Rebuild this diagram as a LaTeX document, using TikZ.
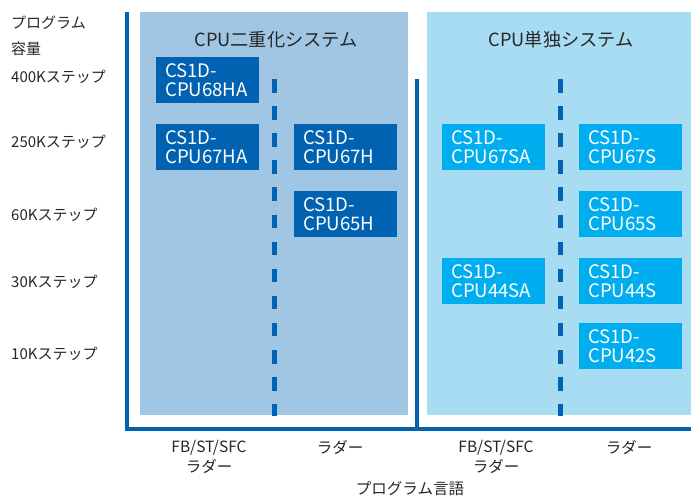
\documentclass[tikz,border=0pt]{standalone}
\usepackage{fontspec}
\setmainfont{Noto Sans CJK JP}
\definecolor{axisblue}{HTML}{0062B0}
\definecolor{panelA}{HTML}{A0C6E3}
\definecolor{panelB}{HTML}{A8DCF2}
\definecolor{boxA}{HTML}{0062B0}
\definecolor{boxB}{HTML}{00AEEF}
\definecolor{txt}{HTML}{262626}
\begin{document}
\begin{tikzpicture}[x=1pt,y=-1pt,
  cpubox/.style={anchor=north west, minimum width=103pt, minimum height=46pt,
    text width=85pt, inner xsep=9pt, inner ysep=0pt, align=left, text=white,
    font=\fontsize{18.6}{19.7}\selectfont},
  darkbox/.style={cpubox, fill=boxA},
  lightbox/.style={cpubox, fill=boxB},
  rowlabel/.style={anchor=west, text=txt, inner sep=0pt, font=\fontsize{15}{18}\selectfont},
  title/.style={text=txt, inner sep=0pt, font=\fontsize{18.2}{20}\selectfont},
  collabel/.style={text=txt, inner sep=0pt, align=center, font=\fontsize{15.5}{19.5}\selectfont},
  axisline/.style={axisblue, line width=4pt},
  dashline/.style={axisblue, line width=5pt, dash pattern=on 13.5pt off 13.6pt}
]
\useasboundingbox (0,0) rectangle (691,496);
% panels
\fill[panelA] (140,12) rectangle (408,415);
\fill[panelB] (427,12) rectangle (691,415);
% dashed dividers
\coordinate (dA1) at (274,79);
\coordinate (dA2) at (274,415);
\coordinate (dB1) at (560,79);
\coordinate (dB2) at (560,415);
\begin{scope}
\clip (0,79) rectangle (691,415);
\draw[dashline] (dA1) -- ([yshift=-20pt]dA2);
\draw[dashline] (dB1) -- ([yshift=-20pt]dB2);
\end{scope}
% axes
\coordinate (axTop) at (127,12);
\coordinate (axCorner) at (127,429);
\coordinate (axRight) at (691,429);
\coordinate (midTop) at (417,79);
\coordinate (midBot) at (417,429);
\draw[axisline] (axTop) -- ([yshift=-2pt]axCorner);
\draw[axisline] ([xshift=-2pt]axCorner) -- (axRight);
\draw[axisline] (midTop) -- (midBot);
% titles
\node[title] (tA) at (276,40) {CPU二重化システム};
\node[title] (tB) at (561,40) {CPU単独システム};
% boxes left
\node[darkbox] (b68ha) at (156,57) {CS1D-\\CPU68HA};
\node[darkbox] (b67ha) at (156,124) {CS1D-\\CPU67HA};
\node[darkbox] (b67h) at (294,124) {CS1D-\\CPU67H};
\node[darkbox] (b65h) at (294,191) {CS1D-\\CPU65H};
% boxes right
\node[lightbox] (b67sa) at (442,124) {CS1D-\\CPU67SA};
\node[lightbox] (b67s) at (579,124) {CS1D-\\CPU67S};
\node[lightbox] (b65s) at (579,191) {CS1D-\\CPU65S};
\node[lightbox] (b44sa) at (442,258) {CS1D-\\CPU44SA};
\node[lightbox] (b44s) at (579,258) {CS1D-\\CPU44S};
\node[lightbox] (b42s) at (579,323) {CS1D-\\CPU42S};
% row labels
\node[rowlabel] (l0a) at (11,23) {プログラム};
\node[rowlabel] (l0b) at (11,49) {容量};
\node[rowlabel] (l400) at (11,77) {400Kステップ};
\node[rowlabel] (l250) at (11,142) {250Kステップ};
\node[rowlabel] (l60) at (11,215) {60Kステップ};
\node[rowlabel] (l30) at (11,282) {30Kステップ};
\node[rowlabel] (l10) at (11,354) {10Kステップ};
% column labels
\node[collabel] (c1) at (209,457) {FB/ST/SFC\\ラダー};
\node[collabel] (c2) at (340,447) {ラダー};
\node[collabel] (c3) at (496,457) {FB/ST/SFC\\ラダー};
\node[collabel] (c4) at (629,447) {ラダー};
\node[collabel] (cx) at (410,489) {プログラム言語};
\end{tikzpicture}
\end{document}
